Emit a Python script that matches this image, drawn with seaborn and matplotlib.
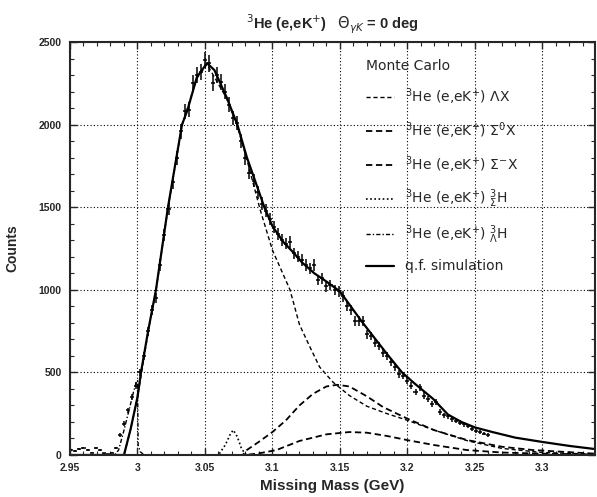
import numpy as np
import seaborn as sns
import matplotlib.pyplot as plt

# measured spectrum (bin centres in GeV, counts)
data_mass = [2.951, 2.954, 2.957, 2.960, 2.963, 2.966, 2.969, 2.972, 2.975, 2.978,
             2.981, 2.984, 2.987, 2.990, 2.993, 2.996, 2.999, 3.002, 3.005, 3.008,
             3.011, 3.014, 3.017, 3.020, 3.023, 3.026, 3.029, 3.032, 3.035, 3.038,
             3.041, 3.044, 3.047, 3.050, 3.053, 3.056, 3.059, 3.062, 3.065, 3.068,
             3.071, 3.074, 3.077, 3.080, 3.083, 3.086, 3.089, 3.092, 3.095, 3.098,
             3.101, 3.104, 3.107, 3.110, 3.113, 3.116, 3.119, 3.122, 3.125, 3.128,
             3.131, 3.134, 3.137, 3.140, 3.143, 3.146, 3.149, 3.152, 3.155, 3.158,
             3.161, 3.164, 3.167, 3.170, 3.173, 3.176, 3.179, 3.182, 3.185, 3.188,
             3.191, 3.194, 3.197, 3.200, 3.203, 3.206, 3.209, 3.212, 3.215, 3.218,
             3.221, 3.224, 3.227, 3.230, 3.233, 3.236, 3.239, 3.242, 3.245, 3.248,
             3.251, 3.254, 3.257, 3.260]
data_counts = [30, 25, 35, 40, 30, 15, 40, 30, 10, 5,
               15, 40, 120, 190, 270, 350, 420, 500, 600, 750,
               880, 950, 1150, 1330, 1490, 1650, 1800, 1960, 2080, 2090,
               2250, 2300, 2320, 2390, 2370, 2250, 2300, 2260, 2200, 2120,
               2040, 2010, 1900, 1800, 1710, 1660, 1590, 1520, 1480, 1430,
               1380, 1340, 1300, 1280, 1290, 1220, 1200, 1180, 1150, 1130,
               1150, 1060, 1070, 1020, 1030, 1000, 990, 960, 900, 880,
               810, 810, 810, 730, 720, 680, 660, 620, 600, 560,
               530, 490, 480, 450, 420, 380, 410, 360, 340, 310,
               320, 260, 240, 235, 215, 205, 195, 185, 175, 160,
               145, 140, 130, 120]

# Monte Carlo curves
qf_mass = [2.950, 2.990, 2.995, 3.000, 3.0026, 3.008, 3.0137, 3.0226, 3.033, 3.037,
           3.044, 3.0515, 3.057, 3.066, 3.074, 3.081, 3.088, 3.094, 3.100, 3.108,
           3.115, 3.122, 3.131, 3.140, 3.150, 3.158, 3.166, 3.175, 3.185, 3.196,
           3.205, 3.219, 3.230, 3.240, 3.250, 3.263, 3.280, 3.300, 3.320, 3.339]
qf_counts = [0, 0, 160, 350, 500, 756, 1000, 1500, 2000, 2087,
             2287, 2372, 2330, 2166, 2000, 1803, 1640, 1500, 1385, 1290,
             1230, 1165, 1100, 1050, 990, 900, 810, 715, 610, 500,
             435, 340, 245, 200, 167, 139, 105, 79, 55, 36]

lx_mass = [2.950, 2.990, 2.995, 3.000, 3.008, 3.0137, 3.0226, 3.033, 3.044, 3.0515,
           3.066, 3.074, 3.081, 3.091, 3.100, 3.113, 3.120, 3.128, 3.135, 3.145,
           3.157, 3.170, 3.185, 3.200, 3.220, 3.245, 3.270, 3.300, 3.339]
lx_counts = [0, 0, 158, 348, 750, 995, 1495, 1995, 2280, 2365,
             2160, 1990, 1790, 1482, 1240, 1000, 790, 650, 532, 440,
             360, 295, 250, 210, 150, 85, 40, 15, 5]

s0_mass = [2.950, 3.078, 3.081, 3.090, 3.100, 3.110, 3.120, 3.130, 3.140, 3.148,
           3.157, 3.170, 3.182, 3.200, 3.220, 3.244, 3.270, 3.293, 3.339]
s0_counts = [0, 0, 30, 80, 139, 210, 300, 370, 415, 425,
             415, 355, 290, 220, 150, 91, 50, 30, 8]

sm_mass = [2.950, 3.080, 3.090, 3.103, 3.120, 3.140, 3.157, 3.170, 3.185, 3.200,
           3.220, 3.244, 3.270, 3.300, 3.339]
sm_counts = [0, 0, 10, 30, 85, 125, 139, 135, 115, 90,
             60, 30, 15, 8, 3]

sh_mass = [2.950, 3.060, 3.065, 3.069, 3.071, 3.074, 3.077, 3.080, 3.082, 3.339]
sh_counts = [0, 0, 60, 130, 151, 110, 40, 5, 0, 0]

lh_mass = [2.950, 2.983, 2.986, 2.990, 2.994, 2.997, 2.9995, 3.000, 3.0005, 3.002, 3.005, 3.339]
lh_counts = [0, 0, 30, 150, 280, 380, 450, 450, 60, 20, 0, 0]

sns.set_style("ticks")
plt.rcParams['font.family'] = ['Liberation Sans', 'DejaVu Sans']
plt.rcParams['mathtext.fontset'] = 'dejavusans'

fig = plt.figure(figsize=(5.97, 4.97), dpi=100)
ax = fig.add_axes([70 / 597, 42 / 497, 525 / 597, 413 / 497])

sns.lineplot(x=lx_mass, y=lx_counts, ax=ax, color='black', lw=1.0,
             linestyle=(0, (3, 2)), label=r'$^3$He (e,eK$^{+}$) $\Lambda$X')
sns.lineplot(x=s0_mass, y=s0_counts, ax=ax, color='black', lw=1.3,
             linestyle=(0, (3.5, 2)), label=r'$^3$He (e,eK$^{+}$) $\Sigma^0$X')
sns.lineplot(x=sm_mass, y=sm_counts, ax=ax, color='black', lw=1.3,
             linestyle=(0, (3.5, 2)), label=r'$^3$He (e,eK$^{+}$) $\Sigma^{-}$X')
sns.lineplot(x=sh_mass, y=sh_counts, ax=ax, color='black', lw=1.2,
             linestyle=(0, (1, 1.5)), label=r'$^3$He (e,eK$^{+}$) $^3_\Sigma$H')
sns.lineplot(x=lh_mass, y=lh_counts, ax=ax, color='black', lw=1.0,
             linestyle=(0, (3, 1.5, 1, 1.5)), label=r'$^3$He (e,eK$^{+}$) $^3_\Lambda$H')
sns.lineplot(x=qf_mass, y=qf_counts, ax=ax, color='black', lw=1.6,
             label='q.f. simulation')

ax.errorbar(data_mass, data_counts, yerr=np.sqrt(data_counts), xerr=0.0015,
            fmt='none', ecolor='black', elinewidth=1.1, capsize=0)

ax.set_xlim(2.95, 3.339)
ax.set_ylim(0, 2500)
ax.set_xticks([2.95, 3.0, 3.05, 3.1, 3.15, 3.2, 3.25, 3.3])
ax.set_xticklabels(['2.95', '3', '3.05', '3.1', '3.15', '3.2', '3.25', '3.3'])
ax.set_yticks([0, 500, 1000, 1500, 2000, 2500])
ax.set_xticks(np.arange(2.95, 3.34, 0.01), minor=True)
ax.set_yticks(np.arange(0, 2501, 100), minor=True)
ax.tick_params(which='both', direction='in', top=True, right=True, labelsize=7.5, pad=6)
ax.tick_params(which='major', length=5, width=1)
ax.tick_params(which='minor', length=3, width=0.8)
for lab in ax.get_xticklabels() + ax.get_yticklabels():
    lab.set_fontweight('bold')
for sp in ax.spines.values():
    sp.set_linewidth(1.5)
ax.grid(True, which='major', color='black', linestyle=(0, (1, 2)), linewidth=0.8)

ax.set_xlabel('Missing Mass (GeV)', fontsize=11, fontweight='bold', labelpad=4)
ax.set_ylabel('Counts', fontsize=10, fontweight='bold', labelpad=14)
ax.set_title(r'$^3$He (e,eK$^{+}$)   $\Theta_{\gamma K}$ = 0 deg', fontsize=10.5,
             fontweight='bold', pad=9)

leg = ax.legend(loc='upper left', bbox_to_anchor=(0.551, 0.975), frameon=False,
                title='Monte Carlo', fontsize=10, title_fontsize=10,
                handlelength=2.0, handletextpad=0.8, labelspacing=0.95,
                borderpad=0, alignment='left', prop={'family': 'DejaVu Sans', 'size': 10})
leg.get_title().set_family('DejaVu Sans')

fig.savefig('out.png', dpi=100)
